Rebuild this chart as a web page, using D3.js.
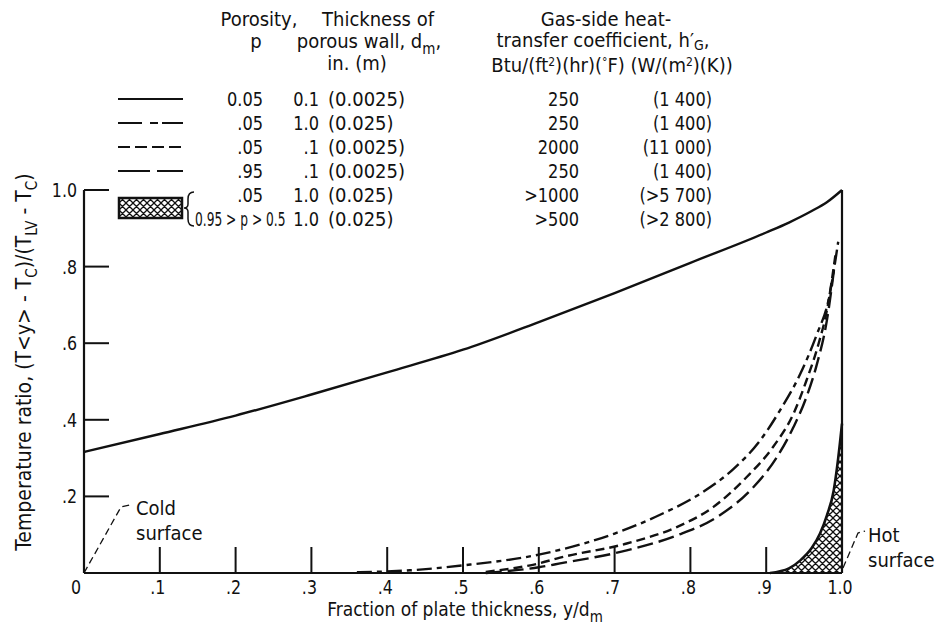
<!DOCTYPE html>
<html>
<head>
<meta charset="utf-8">
<script src="https://cdn.jsdelivr.net/npm/d3@7"></script>
<style>
  body { margin: 0; background: #fff; }
  svg text { font-family: "DejaVu Sans Condensed", "DejaVu Sans", sans-serif; font-stretch: condensed; font-size: 20px; fill: #111; }
</style>
</head>
<body>
<svg id="chart" width="937" height="629"></svg>
<script>
// tick values and labels
var xTickVals = [0.1, 0.2, 0.3, 0.4, 0.5, 0.6, 0.7, 0.8, 0.9];
var xLabelVals = [0, 0.1, 0.2, 0.3, 0.4, 0.5, 0.6, 0.7, 0.8, 0.9, 1.0];
var xLabels = ["0", ".1", ".2", ".3", ".4", ".5", ".6", ".7", ".8", ".9", "1.0"];
var yTickVals = [0.2, 0.4, 0.6, 0.8, 1.0];
var yLabels = [".2", ".4", ".6", ".8", "1.0"];

// curves, [y/dm, temperature ratio]
var solidPts = [[0, .316], [.1, .363], [.2, .411], [.3, .466], [.4, .524], [.5, .583], [.6, .655],
  [.7, .731], [.8, .81], [.9, .889], [.93, .915], [.96, .945], [.98, .968], [1.0, 1.0]];
var dashDotPts = [[.36, .002], [.43, .007], [.5, .02], [.6, .048], [.7, .103], [.76, .152], [.813, .207],
  [.857, .272], [.892, .346], [.918, .424], [.945, .52], [.967, .624], [.982, .711], [.995, .865]];
var shortDashPts = [[.53, .003], [.6, .025], [.628, .04], [.716, .077], [.782, .12], [.83, .172], [.874, .25],
  [.909, .329], [.936, .416], [.953, .502], [.969, .598], [.98, .685], [.992, .84]];
var longDashPts = [[.53, .0], [.6, .015], [.628, .025], [.716, .059], [.782, .098], [.835, .146], [.883, .224],
  [.914, .302], [.936, .381], [.953, .459], [.967, .546], [.98, .659], [.99, .80]];
var hatchPts = [[.905, 0], [.93, .012], [.945, .033], [.96, .065], [.971, .103], [.98, .15], [.989, .215],
  [.995, .30], [1.0, .39]];

// legend table
var porosity = ["0.05", ".05", ".05", ".95", ".05", "0.95 > p > 0.5"];
var thickIn = ["0.1", "1.0", ".1", ".1", "1.0", "1.0"];
var thickM = ["(0.0025)", "(0.025)", "(0.0025)", "(0.0025)", "(0.025)", "(0.025)"];
var hBtu = ["250", "250", "2000", "250", ">1000", ">500"];
var hSI = ["(1 400)", "(1 400)", "(11 000)", "(1 400)", "(>5 700)", "(>2 800)"];
var dashes = [null, "15,5,5,5", "9,5", "16,6"];
var legendDashes = [null, "24,8,8,4", "12,5", "32,7"];

var svg = d3.select("#chart");
var x = d3.scaleLinear().domain([0, 1]).range([84, 842]);
var y = d3.scaleLinear().domain([0, 1]).range([573, 190]);

// the printed digits are tall and narrow: squeeze them sideways
function squeeze(sel, k) {
  sel.each(function() {
    var t = d3.select(this);
    var tx = +t.attr("x"), ty = +t.attr("y");
    t.attr("x", 0).attr("y", 0)
      .attr("transform", "translate(" + tx + "," + ty + ") scale(" + k + ",1)");
  });
  return sel;
}

// crosshatch pattern
var pat = svg.append("defs").append("pattern")
  .attr("id", "xhatch")
  .attr("patternUnits", "userSpaceOnUse")
  .attr("width", 7).attr("height", 7);
pat.append("path").attr("d", "M0,0L7,7M7,0L0,7M-1,6L1,8M6,-1L8,1M-1,1L1,-1M6,8L8,6")
  .attr("stroke", "#111").attr("stroke-width", 1.3);

// axes
svg.append("line").attr("x1", x(0)).attr("x2", x(0)).attr("y1", y(0)).attr("y2", y(1))
  .attr("stroke", "#111").attr("stroke-width", 2.2);
svg.append("line").attr("x1", x(0)).attr("x2", x(1)).attr("y1", y(0)).attr("y2", y(0))
  .attr("stroke", "#111").attr("stroke-width", 2.2);
svg.append("line").attr("x1", x(1)).attr("x2", x(1)).attr("y1", y(0)).attr("y2", y(1))
  .attr("stroke", "#111").attr("stroke-width", 2.2);

svg.selectAll(".xtick").data(xTickVals).enter().append("line")
  .attr("x1", function(d) { return x(d); }).attr("x2", function(d) { return x(d); })
  .attr("y1", y(0)).attr("y2", y(0) - 26)
  .attr("stroke", "#111").attr("stroke-width", 2);
svg.selectAll(".ytick").data(yTickVals).enter().append("line")
  .attr("x1", x(0)).attr("x2", x(0) + 25)
  .attr("y1", function(d) { return y(d); }).attr("y2", function(d) { return y(d); })
  .attr("stroke", "#111").attr("stroke-width", 2);

squeeze(svg.selectAll(".xlab").data(xLabelVals).enter().append("text")
  .attr("x", function(d, i) { return x(d) + (i == 0 ? -8 : -2); })
  .attr("y", 594)
  .attr("text-anchor", "middle")
  .text(function(d, i) { return xLabels[i]; }), 0.88);
squeeze(svg.selectAll(".ylab").data(yTickVals).enter().append("text")
  .attr("x", 77)
  .attr("y", function(d) { return y(d) + 7; })
  .attr("text-anchor", "end")
  .text(function(d, i) { return yLabels[i]; }), 0.88);

// axis titles
var xt = svg.append("text").attr("x", 465).attr("y", 616).attr("text-anchor", "middle")
  .style("font-size", "19px");
xt.append("tspan").text("Fraction of plate thickness,  y/d");
xt.append("tspan").attr("dy", 6).style("font-size", "15px").text("m");

var yt = svg.append("text").attr("transform", "translate(31,362) rotate(-90)").attr("text-anchor", "middle")
  .style("font-size", "21px");
yt.append("tspan").text("Temperature ratio,  (T<y> - T");
yt.append("tspan").attr("dy", 6).style("font-size", "15px").text("C");
yt.append("tspan").attr("dy", -6).text(")/(T");
yt.append("tspan").attr("dy", 6).style("font-size", "15px").text("LV");
yt.append("tspan").attr("dy", -6).text(" - T");
yt.append("tspan").attr("dy", 6).style("font-size", "15px").text("C");
yt.append("tspan").attr("dy", -6).text(")");

// curves
var line = d3.line()
  .x(function(d) { return x(d[0]); })
  .y(function(d) { return y(d[1]); })
  .curve(d3.curveMonotoneX);
var area = d3.area()
  .x(function(d) { return x(d[0]); })
  .y0(y(0))
  .y1(function(d) { return y(d[1]); })
  .curve(d3.curveMonotoneX);

svg.append("path").attr("d", area(hatchPts)).attr("fill", "url(#xhatch)");
svg.append("path").attr("d", line(hatchPts)).attr("fill", "none")
  .attr("stroke", "#111").attr("stroke-width", 2.6);

var series = [solidPts, dashDotPts, shortDashPts, longDashPts];
series.forEach(function(pts, i) {
  svg.append("path").attr("d", line(pts))
    .attr("fill", "none")
    .attr("stroke", "#111")
    .attr("stroke-width", 2.4)
    .attr("stroke-dasharray", dashes[i]);
});

// surface notes
svg.append("path").attr("d", "M" + x(0) + "," + y(0) + "L121,507L130,505")
  .attr("fill", "none").attr("stroke", "#111").attr("stroke-width", 1.3).attr("stroke-dasharray", "7,4");
svg.append("text").attr("x", 136).attr("y", 515).text("Cold");
svg.append("text").attr("x", 136).attr("y", 540).text("surface");
svg.append("path").attr("d", "M" + (x(1) + 1) + "," + (y(0) - 5) + "L858,533L865,531")
  .attr("fill", "none").attr("stroke", "#111").attr("stroke-width", 1.3).attr("stroke-dasharray", "7,4");
svg.append("text").attr("x", 868).attr("y", 542).text("Hot");
svg.append("text").attr("x", 868).attr("y", 567).text("surface");

// legend headers
function header(tx, ty, parts) {
  var t = svg.append("text").attr("x", tx).attr("y", ty).attr("text-anchor", "middle");
  parts.forEach(function(p) {
    var s = t.append("tspan").text(p[0]);
    if (p[1]) s.attr("dy", p[1]);
    if (p[2]) s.style("font-size", p[2]);
  });
  return t;
}
header(259, 26, [["Porosity,"]]);
header(256, 48, [["p"]]);
header(378, 26, [["Thickness of"]]);
header(369, 48, [["porous wall,  d"], ["m", 6, "15px"], [",", -6]]);
header(357, 70, [["in.      (m)"]]);
header(606, 26, [["Gas-side heat-"]]);
header(603, 47, [["transfer coefficient,  h\u2032"], ["G", 3, "14px"], [",", -3]]);
header(612, 72, [["Btu/(ft"], ["2", -6, "12px"], [")(hr)(", 6], ["\u00b0", -6, "12px"],
  ["F)  (W/(m", 6], ["2", -6, "12px"], [")(K))", 6]]);

// legend rows
var rowY = [99, 123, 147, 171, 195, 219];
rowY.forEach(function(ry, i) {
  if (i < 4) {
    svg.append("line").attr("x1", 118).attr("x2", 183).attr("y1", ry).attr("y2", ry)
      .attr("stroke", "#111").attr("stroke-width", 2)
      .attr("stroke-dasharray", legendDashes[i]);
  }
  squeeze(svg.append("text").attr("x", i == 5 ? 195 : 263).attr("y", ry + 7)
    .attr("text-anchor", i == 5 ? "start" : "end").text(porosity[i]), i == 5 ? 0.68 : 0.9);
  squeeze(svg.append("text").attr("x", 319).attr("y", ry + 7).attr("text-anchor", "end").text(thickIn[i]), 0.9);
  svg.append("text").attr("x", 328).attr("y", ry + 7).text(thickM[i]);
  squeeze(svg.append("text").attr("x", 579).attr("y", ry + 7).attr("text-anchor", "end").text(hBtu[i]), 0.9);
  squeeze(svg.append("text").attr("x", 712).attr("y", ry + 7).attr("text-anchor", "end").text(hSI[i]), 0.9);
});
svg.append("rect").attr("x", 119).attr("y", 198).attr("width", 63).attr("height", 20)
  .attr("fill", "url(#xhatch)").attr("stroke", "#111").attr("stroke-width", 2.5);
svg.append("path").attr("d", "M194,192Q188,192 188,199L188,204Q188,208 184,208Q188,208 188,212L188,219Q188,226 194,226")
  .attr("fill", "none").attr("stroke", "#111").attr("stroke-width", 1.5);
</script>
</body>
</html>
